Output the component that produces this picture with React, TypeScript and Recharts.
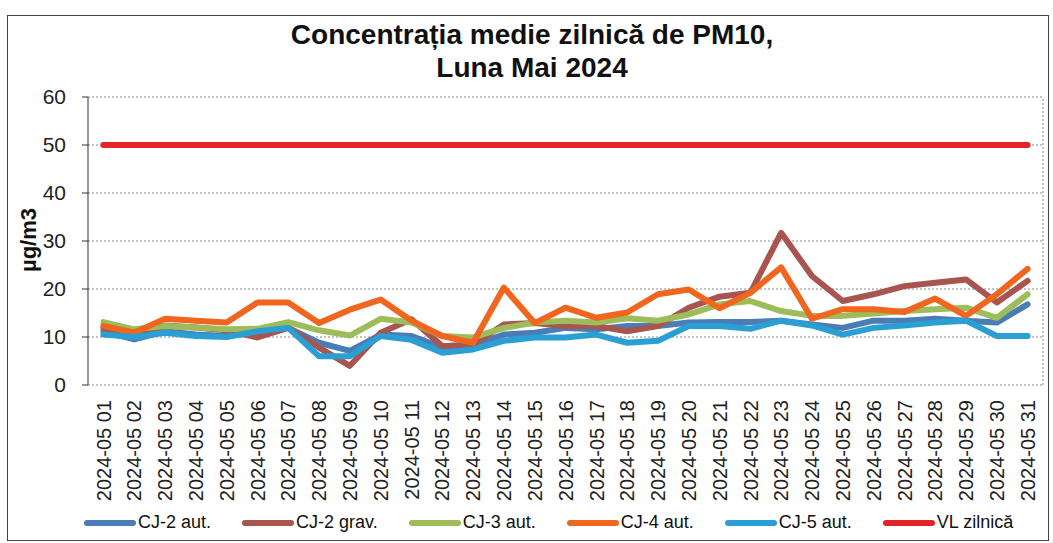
import React from "react";
import { LineChart, Line, XAxis, YAxis, CartesianGrid, ReferenceLine } from "recharts";

// Zilele lunii mai 2024 (etichete axa X)
const days = [
  "2024-05 01", "2024-05 02", "2024-05 03", "2024-05 04", "2024-05 05", "2024-05 06", "2024-05 07",
  "2024-05 08", "2024-05 09", "2024-05 10", "2024-05 11", "2024-05 12", "2024-05 13", "2024-05 14",
  "2024-05 15", "2024-05 16", "2024-05 17", "2024-05 18", "2024-05 19", "2024-05 20", "2024-05 21",
  "2024-05 22", "2024-05 23", "2024-05 24", "2024-05 25", "2024-05 26", "2024-05 27", "2024-05 28",
  "2024-05 29", "2024-05 30", "2024-05 31",
];

const cj2Aut = [11.2, 9.5, 11.2, 10.5, 10.2, 10.9, 11.9, 8.8, 7.1, 10.5, 10.2, 7.8, 8.3, 10.5, 10.9, 11.9, 11.6, 12.3, 12.3, 13.0, 13.1, 13.1, 13.4, 12.6, 11.9, 13.4, 13.4, 13.8, 13.4, 13.0, 16.8];
const cj2Grav = [11.9, 10.2, 12.4, 12.0, 11.4, 9.9, 11.9, 7.8, 4.0, 10.9, 13.7, 8.1, 8.5, 12.6, 12.9, 12.3, 12.3, 11.2, 12.3, 16.1, 18.4, 19.2, 31.7, 22.7, 17.5, 18.9, 20.6, 21.3, 22.0, 17.2, 21.7];
const cj3Aut = [13.1, 11.6, 12.3, 12.0, 11.6, 11.7, 13.1, 11.4, 10.3, 13.8, 13.0, 10.2, 9.9, 11.9, 13.0, 13.4, 13.0, 13.9, 13.4, 14.7, 16.8, 17.5, 15.4, 14.4, 14.4, 14.9, 15.4, 15.8, 16.1, 14.0, 18.9];
const cj4Aut = [12.3, 10.9, 13.8, 13.4, 13.0, 17.2, 17.2, 12.9, 15.7, 17.8, 13.4, 10.2, 8.8, 20.3, 12.9, 16.1, 14.0, 15.1, 18.9, 19.9, 16.0, 19.2, 24.5, 13.8, 15.8, 15.8, 15.2, 18.0, 14.4, 18.9, 24.2];
const cj5Aut = [10.5, 10.0, 10.9, 10.2, 10.0, 11.2, 11.9, 6.0, 6.0, 10.2, 9.4, 6.7, 7.4, 9.2, 9.9, 9.9, 10.5, 8.8, 9.2, 12.3, 12.3, 11.7, 13.4, 12.4, 10.5, 11.9, 12.4, 13.0, 13.4, 10.2, 10.2];
const vlZilnica = [50, 50, 50, 50, 50, 50, 50, 50, 50, 50, 50, 50, 50, 50, 50, 50, 50, 50, 50, 50, 50, 50, 50, 50, 50, 50, 50, 50, 50, 50, 50];

const yTicks = [0, 10, 20, 30, 40, 50, 60];

const series = [
  { key: "cj2Aut", name: "CJ-2 aut.", color: "#4a7db5", values: cj2Aut, width: 6 },
  { key: "cj2Grav", name: "CJ-2 grav.", color: "#a8544f", values: cj2Grav, width: 6 },
  { key: "cj3Aut", name: "CJ-3 aut.", color: "#9cbd5a", values: cj3Aut, width: 6 },
  { key: "cj4Aut", name: "CJ-4 aut.", color: "#f0661e", values: cj4Aut, width: 6 },
  { key: "cj5Aut", name: "CJ-5 aut.", color: "#2a9fd4", values: cj5Aut, width: 6 },
  { key: "vl", name: "VL zilnică", color: "#e5242a", values: vlZilnica, width: 6 },
];

const data = days.map((label, i) => {
  const row: Record<string, number | string> = { day: i + 1, label };
  series.forEach((s) => {
    row[s.key] = s.values[i];
  });
  return row;
});

const dayTicks = days.map((_, i) => i + 1);
const boundaryTicks = [0.5, ...days.map((_, i) => i + 1.5)];

const FONT = '"Liberation Sans", Arial, sans-serif';

const DateTick = (props: any) => {
  const { x, y, payload } = props;
  return (
    <g transform={`translate(${x},${y})`}>
      <text
        transform="rotate(-90)"
        x={-15}
        y={0}
        dy="0.36em"
        textAnchor="end"
        fontSize={20}
        fontFamily={FONT}
        fill="#222"
      >
        {days[payload.value - 1]}
      </text>
    </g>
  );
};

const EmptyTick = () => <g />;

export default function App() {
  return (
    <div style={{ position: "absolute", left: 0, top: 0, width: 1053, height: 543, background: "#fff", fontFamily: FONT }}>
      <style>{"body{margin:0}"}</style>
      <div
        style={{
          position: "absolute",
          left: 7,
          top: 15,
          width: 1042,
          height: 526,
          border: "1px solid #444",
          boxSizing: "border-box",
        }}
      />
      <div
        style={{
          position: "absolute",
          left: 232,
          top: 18,
          width: 600,
          textAlign: "center",
          fontSize: 28,
          fontWeight: "bold",
          lineHeight: "33px",
          color: "#111",
        }}
      >
        Concentrația medie zilnică de PM10,
        <br />
        Luna Mai 2024
      </div>
      <div
        style={{
          position: "absolute",
          left: 29,
          top: 240,
          transform: "translate(-50%, -50%) rotate(-90deg)",
          fontSize: 22,
          fontWeight: "bold",
          color: "#111",
          whiteSpace: "nowrap",
        }}
      >
        µg/m3
      </div>
      <LineChart
        width={1053}
        height={543}
        data={data}
        margin={{ top: 97, right: 10, bottom: 28, left: 0 }}
        style={{ position: "absolute", left: 0, top: 0 }}
      >
        <CartesianGrid xAxisId="labels" vertical={false} stroke="#888" strokeDasharray="2 2" />
        <XAxis
          xAxisId="marks"
          dataKey="day"
          type="number"
          domain={[0.5, 31.5]}
          ticks={boundaryTicks}
          interval={0}
          tick={<EmptyTick />}
          tickSize={6}
          height={0}
          stroke="#333"
          allowDataOverflow
        />
        <XAxis
          xAxisId="labels"
          dataKey="day"
          type="number"
          domain={[0.5, 31.5]}
          ticks={dayTicks}
          interval={0}
          tick={<DateTick />}
          tickLine={false}
          axisLine={false}
          tickSize={0}
          tickMargin={0}
          height={130}
          allowDataOverflow
        />
        <YAxis
          domain={[0, 60]}
          ticks={yTicks}
          width={88}
          tickSize={6}
          tickMargin={16}
          stroke="#333"
          tick={{ fontSize: 21, fill: "#222", fontFamily: FONT }}
        />
        <ReferenceLine xAxisId="labels" x={31.5} stroke="#888" strokeDasharray="2 2" />
        {series.map((s) => (
          <Line
            key={s.key}
            xAxisId="labels"
            type="linear"
            dataKey={s.key}
            name={s.name}
            stroke={s.color}
            strokeWidth={s.width}
            strokeLinejoin="round"
            strokeLinecap="round"
            dot={false}
            activeDot={false}
            isAnimationActive={false}
          />
        ))}
      </LineChart>
      <div
        style={{
          position: "absolute",
          left: 84,
          top: 512,
          display: "flex",
          alignItems: "center",
          gap: 31,
          fontSize: 18,
          color: "#111",
        }}
      >
        {series.map((s) => (
          <div key={s.key} style={{ display: "flex", alignItems: "center" }}>
            <span
              style={{
                display: "inline-block",
                width: 52,
                height: 6,
                borderRadius: 3,
                background: s.color,
                marginRight: 2,
              }}
            />
            <span>{s.name}</span>
          </div>
        ))}
      </div>
    </div>
  );
}
